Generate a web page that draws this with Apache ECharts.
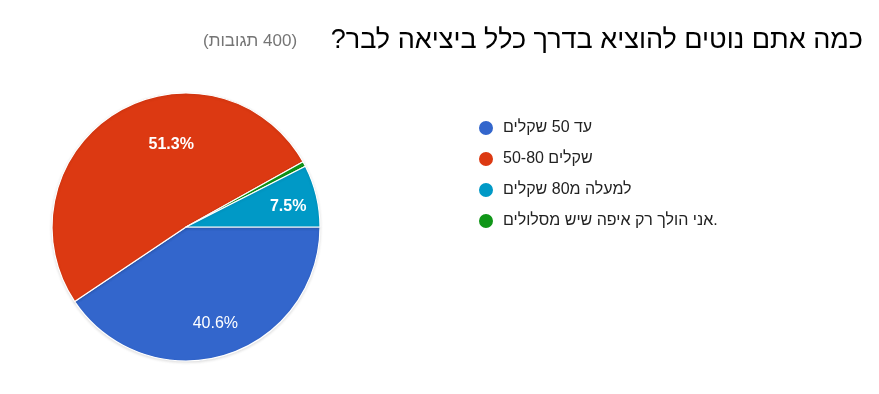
<!DOCTYPE html>
<html>
<head>
<meta charset="utf-8">
<script src="https://cdn.jsdelivr.net/npm/echarts@6/dist/echarts.min.js"></script>
<style>
html,body{margin:0;padding:0;background:#fff;}
#chart{width:879px;height:394px;}
</style>
</head>
<body>
<div id="chart"></div>
<script>
const titleText = 'כמה אתם נוטים להוציא בדרך כלל ביציאה לבר?';
const responsesText = '(400 תגובות)';
const categories = ['עד 50 שקלים', '50-80 שקלים', 'למעלה מ80 שקלים', 'אני הולך רק איפה שיש מסלולים.'];
const values = [40.6, 51.3, 7.5, 0.6];
const colors = ['#3366cc', '#dc3912', '#0099c6', '#109618'];
// order in which slices are drawn clockwise from 3 o'clock
const pieOrder = [0, 1, 3, 2];

const FONT = '"Liberation Sans", Arial, "DejaVu Sans", sans-serif';
const RLM = '\u200F';
const labelBold = [false, true, true, false];
const labelShift = [[0, 0], [38, 4], [4, 3], [0, 0]];

const pieData = pieOrder.map(i => ({
  name: categories[i],
  value: values[i],
  itemStyle: { color: colors[i] }
}));

const labelData = pieOrder.map(i => ({
  name: categories[i],
  value: values[i],
  itemStyle: { color: 'rgba(0,0,0,0)' },
  label: {
    show: i !== 3,
    fontWeight: labelBold[i] ? 'bold' : 'normal'
  }
}));

const chart = echarts.init(document.getElementById('chart'), null, { renderer: 'canvas' });
chart.setOption({
  animation: false,
  backgroundColor: '#fff',
  title: [
    {
      text: RLM + titleText + RLM,
      right: 16,
      top: 27,
      padding: 0,
      textStyle: { fontFamily: FONT, fontSize: 27, fontWeight: 'normal', color: '#000' }
    },
    {
      text: RLM + responsesText + RLM,
      left: 203,
      top: 33,
      padding: 0,
      textStyle: { fontFamily: FONT, fontSize: 17, fontWeight: 'normal', color: '#757575' }
    }
  ],
  legend: {
    orient: 'vertical',
    left: 477,
    top: 119,
    padding: 0,
    itemWidth: 16,
    itemHeight: 16,
    itemGap: 13,
    icon: 'circle',
    data: categories,
    selectedMode: false,
    textStyle: { fontFamily: FONT, fontSize: 16, color: '#222', padding: [0, 0, 0, 4] }
  },
  series: [
    {
      type: 'pie',
      center: [186, 227],
      radius: [0, 134],
      startAngle: 0,
      clockwise: true,
      minAngle: 0,
      avoidLabelOverlap: false,
      silent: true,
      label: { show: false },
      labelLine: { show: false },
      itemStyle: {
        borderColor: '#fff',
        borderWidth: 1.2,
        shadowColor: 'rgba(0,0,0,0.12)',
        shadowBlur: 3,
        shadowOffsetY: 1
      },
      data: pieData
    },
    {
      type: 'pie',
      center: [186, 227],
      radius: [62, 134],
      startAngle: 0,
      clockwise: true,
      avoidLabelOverlap: false,
      silent: true,
      legendHoverLink: false,
      label: {
        show: true,
        position: 'inside',
        color: '#fff',
        fontFamily: FONT,
        fontSize: 16,
        formatter: p => p.value + '%'
      },
      labelLine: { show: false },
      labelLayout: p => ({ dx: labelShift[pieOrder[p.dataIndex]][0], dy: labelShift[pieOrder[p.dataIndex]][1] }),
      itemStyle: { color: 'rgba(0,0,0,0)', borderWidth: 0 },
      data: labelData
    }
  ]
});
</script>
</body>
</html>
